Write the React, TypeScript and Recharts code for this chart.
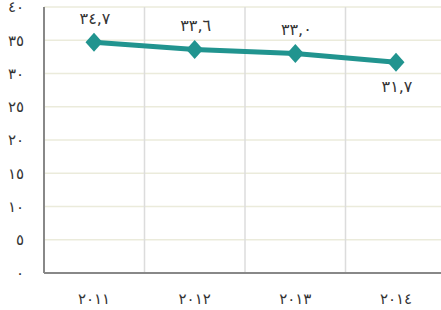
import React from 'react';
import { LineChart, Line, XAxis, YAxis, CartesianGrid, LabelList } from 'recharts';

const categories = ['٢٠١١', '٢٠١٢', '٢٠١٣', '٢٠١٤'];
const values = [34.7, 33.6, 33.0, 31.7];
const valueLabels = ['٣٤,٧', '٣٣,٦', '٣٣,٠', '٣١,٧'];
const yTicks = [0, 5, 10, 15, 20, 25, 30, 35, 40];
const yTickLabels = ['٠', '٥', '١٠', '١٥', '٢٠', '٢٥', '٣٠', '٣٥', '٤٠'];

const data = categories.map((c, i) => ({ year: c, value: values[i], label: valueLabels[i] }));

const TEAL = '#21948f';
const FONT = '"DejaVu Sans", sans-serif';

const Diamond = (props: any) => {
  const { cx, cy } = props;
  if (cx == null || cy == null) return null;
  const w = 8.5, h = 9.5;
  return (
    <polygon
      points={`${cx},${cy - h} ${cx + w},${cy} ${cx},${cy + h} ${cx - w},${cy}`}
      fill={TEAL}
    />
  );
};

const ValueLabel = (props: any) => {
  const { x, y, index } = props;
  const below = index === categories.length - 1;
  return (
    <text
      x={x + 1}
      y={below ? y + 24 : y - 24}
      textAnchor="middle"
      dominantBaseline="central"
      fontFamily={FONT}
      fontSize={16}
      letterSpacing={2}
      fill="#333"
    >
      {valueLabels[index]}
    </text>
  );
};

const vGen = (props: any) => {
  const { offset } = props;
  const w = offset.width / categories.length;
  return categories.slice(1).map((_, i) => offset.left + (i + 1) * w);
};

export default function App() {
  return (
    <div style={{ position: 'absolute', left: 0, top: 0, width: 441, height: 310, overflow: 'hidden', background: '#fff' }}>
      <LineChart width={446} height={310} data={data} margin={{ top: 7, right: 0, left: 0, bottom: 0 }}>
        <CartesianGrid horizontal={true} vertical={false} stroke="#ebebdb" strokeWidth={1.5} />
        <CartesianGrid horizontal={false} vertical={true} stroke="#dcdcdc" strokeWidth={1.5} verticalCoordinatesGenerator={vGen} />
        <XAxis
          dataKey="year"
          height={37}
          padding={{ left: 50, right: 50 }}
          tickLine={false}
          axisLine={{ stroke: '#888', strokeWidth: 2 }}
          tick={{ fontFamily: FONT, fontSize: 15, fill: '#333', letterSpacing: 3 }}
          tickMargin={14}
        />
        <YAxis
          width={44}
          domain={[0, 40]}
          ticks={yTicks}
          interval={0}
          tickLine={false}
          axisLine={{ stroke: '#888', strokeWidth: 2 }}
          tick={{ fontFamily: FONT, fontSize: 15, fill: '#333', letterSpacing: 2 }}
          tickMargin={14}
          tickFormatter={(v: number) => yTickLabels[yTicks.indexOf(v)]}
        />
        <Line
          type="linear"
          dataKey="value"
          stroke={TEAL}
          strokeWidth={5}
          dot={<Diamond />}
          activeDot={false}
          isAnimationActive={false}
        >
          <LabelList dataKey="label" content={<ValueLabel />} />
        </Line>
      </LineChart>
    </div>
  );
}
